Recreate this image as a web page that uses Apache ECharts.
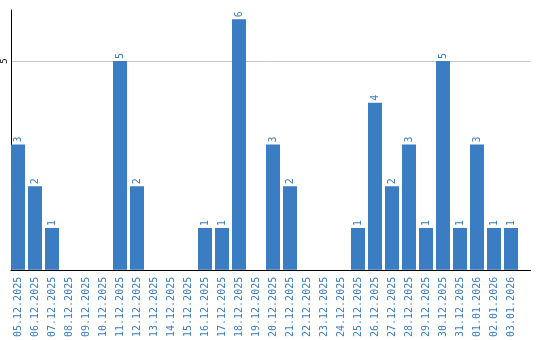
<!DOCTYPE html>
<html>
<head>
<meta charset="utf-8">
<script src="https://cdn.jsdelivr.net/npm/echarts@6/dist/echarts.min.js"></script>
<style>html,body{margin:0;padding:0;background:#fff;}#c{width:540px;height:340px;}</style>
</head>
<body>
<div id="c"></div>
<script>
var categories = ['05.12.2025','06.12.2025','07.12.2025','08.12.2025','09.12.2025','10.12.2025','11.12.2025','12.12.2025','13.12.2025','14.12.2025','15.12.2025','16.12.2025','17.12.2025','18.12.2025','19.12.2025','20.12.2025','21.12.2025','22.12.2025','23.12.2025','24.12.2025','25.12.2025','26.12.2025','27.12.2025','28.12.2025','29.12.2025','30.12.2025','31.12.2025','01.01.2026','02.01.2026','03.01.2026'];
var values = [3,2,1,0,0,0,5,2,0,0,0,1,1,6,0,3,2,0,0,0,1,4,2,3,1,5,1,3,1,1];
var yMax = 6.22;
var yInterval = 5;

var blue = '#3b7dc3';
var chart = echarts.init(document.getElementById('c'), null, {renderer: 'canvas'});
chart.setOption({
  animation: false,
  backgroundColor: '#fff',
  grid: [
    {left: 9.5, right: 20.5, top: 10, bottom: 70},
    {left: 10, right: 9.5, top: 10, bottom: 70}
  ],
  xAxis: [
    {
      type: 'category', gridIndex: 0, data: categories,
      axisLine: {show: false}, axisTick: {show: false},
      axisLabel: {rotate: 90, interval: 0, margin: 7, color: blue, fontFamily: 'DejaVu Sans Mono', fontSize: 10}
    },
    {
      type: 'value', gridIndex: 1, min: 0, max: 1,
      axisLine: {show: true, lineStyle: {color: '#000', width: 1}},
      axisTick: {show: false}, axisLabel: {show: false}, splitLine: {show: false}
    }
  ],
  yAxis: [
    {type: 'value', gridIndex: 0, min: 0, max: yMax, interval: yInterval, show: false},
    {
      type: 'value', gridIndex: 1, min: 0, max: yMax, interval: yInterval,
      axisLine: {show: true, lineStyle: {color: '#000', width: 1}},
      axisTick: {show: false},
      axisLabel: {rotate: 90, margin: 2, color: '#000', fontFamily: 'DejaVu Sans Mono', fontSize: 9, showMinLabel: false, showMaxLabel: false},
      splitLine: {show: true, showMinLine: false, showMaxLine: false, lineStyle: {color: '#c8c8c8', width: 1}}
    }
  ],
  series: [{
    type: 'bar', xAxisIndex: 0, yAxisIndex: 0,
    data: values.map(function (v) { return v === 0 ? null : v; }),
    barCategoryGap: '17.6%',
    itemStyle: {color: blue},
    label: {
      show: true, position: 'top', rotate: 90, align: 'left', verticalAlign: 'middle', distance: 2,
      color: blue, fontFamily: 'DejaVu Sans Mono', fontSize: 10
    }
  }]
});
</script>
</body>
</html>
